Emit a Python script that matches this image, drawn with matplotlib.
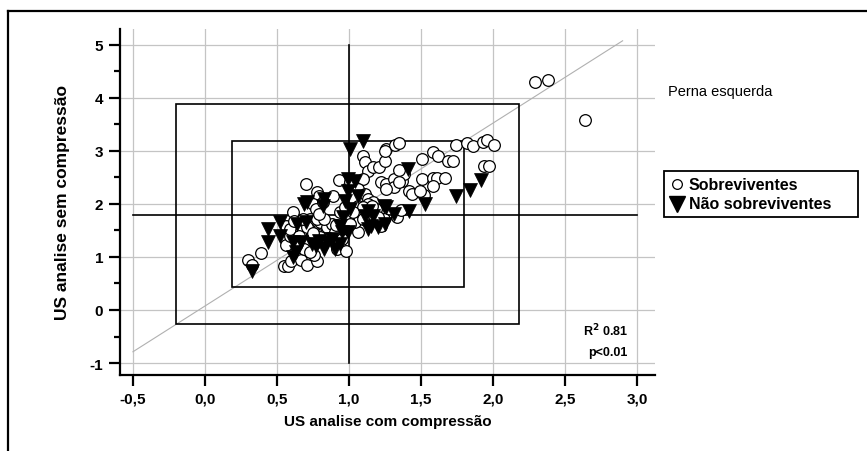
import matplotlib
matplotlib.use('Agg')
import matplotlib.pyplot as plt
from matplotlib.lines import Line2D
from matplotlib.patches import Rectangle

plt.rcParams['font.family'] = ['Liberation Sans', 'DejaVu Sans']

# ---------------- data ----------------
surv_x = [0.30, 0.33, 0.39, 0.70, 0.55, 0.58, 0.60, 0.67, 0.71, 0.78, 0.76, 0.56, 0.59, 0.61, 0.56,
          0.78, 0.79, 0.75, 0.77, 0.79, 0.73, 0.76, 0.81, 0.85, 0.80, 0.72, 0.66, 0.69, 0.74, 0.89,
          0.92, 0.98, 0.94, 0.89, 0.93, 1.06, 1.06, 1.10, 1.11, 1.13, 1.17, 1.21, 1.25, 1.26, 1.32,
          1.35, 1.22, 1.26, 1.31, 1.37, 1.37, 1.10, 1.06, 1.11, 1.13, 1.17, 1.06, 1.13, 1.19, 1.31,
          1.42, 1.44, 1.51, 1.58, 1.61, 1.67, 1.58, 1.51, 1.58, 1.62, 1.69, 1.33, 1.24, 1.22, 1.04,
          1.74, 1.82, 1.86, 1.93, 1.96, 2.01, 1.72, 1.94, 1.97, 1.52, 1.36, 2.29, 2.38, 2.64, 1.38,
          1.35, 0.59, 0.67, 0.71, 0.80, 0.85, 0.88, 0.90, 0.95, 0.78, 0.83, 0.79, 0.82, 0.99, 0.71,
          0.65, 0.64, 0.69, 0.73, 1.01, 1.10, 1.16, 1.26, 1.35, 1.49, 1.25, 1.03, 1.01, 1.20, 1.10,
          0.62, 0.68, 0.86, 0.91, 0.75, 0.97]
surv_y = [0.94, 0.85, 1.08, 2.38, 0.83, 0.83, 0.93, 0.94, 0.85, 0.93, 1.04, 1.23, 1.40, 1.85, 1.59,
          2.23, 2.15, 2.00, 1.91, 1.77, 1.72, 1.59, 1.62, 1.49, 1.38, 1.53, 1.47, 1.30, 1.21, 1.43,
          1.15, 1.11, 1.85, 2.15, 2.45, 1.47, 1.77, 2.91, 2.79, 2.62, 2.70, 2.70, 2.81, 3.04, 3.11,
          3.15, 2.42, 2.38, 2.47, 2.43, 2.62, 2.47, 2.28, 2.19, 2.09, 2.04, 1.96, 2.00, 1.91, 2.32,
          2.25, 2.19, 2.47, 2.49, 2.49, 2.49, 2.34, 2.85, 2.98, 2.91, 2.81, 1.75, 1.72, 1.59, 1.66,
          3.11, 3.15, 3.09, 3.17, 3.21, 3.11, 2.81, 2.72, 2.72, 2.17, 1.89, 4.30, 4.34, 3.58, 2.57,
          2.64, 1.53, 1.49, 1.57, 1.66, 1.57, 1.62, 1.47, 1.34, 1.72, 1.72, 1.81, 2.04, 1.72, 1.28,
          1.40, 1.19, 1.15, 1.09, 2.42, 1.94, 1.96, 2.28, 2.42, 2.25, 3.00, 1.85, 1.62, 1.75, 1.72,
          1.68, 1.72, 1.36, 1.60, 1.45, 1.95]

dead_x = [0.33, 0.44, 0.52, 0.44, 0.52, 0.64, 0.61, 0.63, 0.71, 0.70, 0.83, 0.82, 0.77, 0.85, 0.88,
          0.94, 0.96, 0.99, 0.97, 0.99, 1.04, 0.99, 1.01, 1.10, 1.15, 1.20, 1.25, 1.31, 1.42, 1.53,
          1.41, 1.17, 1.06, 1.74, 1.84, 1.92, 1.13, 0.94, 0.61, 0.74, 0.67, 0.83, 0.79, 0.90, 0.95,
          0.69, 1.01, 1.26, 1.13, 1.24, 1.11]
dead_y = [0.74, 1.53, 1.66, 1.28, 1.40, 1.62, 1.28, 1.09, 2.04, 1.66, 2.09, 1.96, 1.21, 1.28, 1.34,
          1.59, 1.75, 2.25, 2.06, 2.47, 2.43, 1.47, 3.04, 3.19, 1.59, 1.57, 1.62, 1.81, 1.87, 2.00,
          2.66, 1.77, 2.15, 2.15, 2.26, 2.45, 1.53, 1.25, 1.00, 1.25, 1.28, 1.15, 1.30, 1.15, 1.47,
          2.00, 1.91, 1.94, 1.87, 1.96, 1.77]

x_ticks = [-0.5, 0.0, 0.5, 1.0, 1.5, 2.0, 2.5, 3.0]
x_ticklabels = ['-0,5', '0,0', '0,5', '1,0', '1,5', '2,0', '2,5', '3,0']
y_ticks = [-1, 0, 1, 2, 3, 4, 5]
y_ticklabels = ['-1', '0', '1', '2', '3', '4', '5']

mean_x, mean_y = 1.0, 1.8
inner_box = [0.19, 0.43, 1.80, 3.19]    # x0, y0, x1, y1
outer_box = [-0.20, -0.26, 2.18, 3.89]
slope = 1.725
line_x = [-0.5, 2.9]

legend_labels = ['Sobreviventes', 'Não sobreviventes']

# ---------------- figure ----------------
W, H = 867, 452
fig = plt.figure(figsize=(W / 100, H / 100), dpi=100)
fig.patch.set_facecolor('white')

def fx(px):
    return px / W

def fy(py):
    return 1 - py / H

ax = fig.add_axes([fx(120), fy(376), (655 - 120) / W, (376 - 30) / H])
ax.set_xlim(-0.59, 3.125)
ax.set_ylim(-1.226, 5.30)

for s in ['top', 'right']:
    ax.spines[s].set_visible(False)
for s in ['left', 'bottom']:
    ax.spines[s].set_linewidth(1.6)

ax.set_xticks(x_ticks)
ax.set_xticklabels(x_ticklabels)
ax.set_yticks(y_ticks)
ax.set_yticklabels(y_ticklabels)
ax.set_yticks([-0.5, 0.5, 1.5, 2.5, 3.5, 4.5], minor=True)
ax.tick_params(axis='both', which='major', length=8, width=1.6, labelsize=11, pad=4)
ax.tick_params(axis='y', which='minor', length=4, width=1.6)
for lab in ax.get_xticklabels() + ax.get_yticklabels():
    lab.set_fontweight('bold')

ax.grid(True, which='major', color='#c4c4c4', linewidth=0.9)
ax.set_axisbelow(True)

# regression line
ly = [mean_y + slope * (v - mean_x) for v in line_x]
ax.plot(line_x, ly, color='#b0b0b0', linewidth=0.8, zorder=2)

# boxes
for b in (inner_box, outer_box):
    ax.add_patch(Rectangle((b[0], b[1]), b[2] - b[0], b[3] - b[1], fill=False,
                           edgecolor='black', linewidth=1.2, zorder=3))
# crosshair
ax.plot([mean_x, mean_x], [-1, 5], color='black', linewidth=1.2, zorder=3)
ax.plot([-0.5, 3.0], [mean_y, mean_y], color='black', linewidth=1.2, zorder=3)

# points
ax.plot(surv_x, surv_y, linestyle='none', marker='o', markersize=8.4,
        markerfacecolor='white', markeredgecolor='black', markeredgewidth=0.9, zorder=4)
ax.plot(dead_x, dead_y, linestyle='none', marker='v', markersize=10,
        markerfacecolor='black', markeredgecolor='black', markeredgewidth=0.5, zorder=5)

ax.set_xlabel('US analise com compressão', fontsize=11, fontweight='bold', labelpad=6)
ax.set_ylabel('US analise sem compressão', fontsize=12.5, fontweight='bold', labelpad=14)

# annotations
fig.text(fx(668), fy(92), 'Perna esquerda', fontsize=10.5, ha='left', va='center')
fig.text(fx(583), fy(331), r'R$^\mathbf{2}$ 0.81', fontsize=9, fontweight='bold',
         ha='left', va='center')
fig.text(fx(588), fy(353), 'p<0.01', fontsize=9, fontweight='bold', ha='left', va='center')

# legend (manual)
fig.add_artist(Rectangle((fx(664), fy(218)), (858 - 664) / W, (218 - 172) / H,
                         transform=fig.transFigure, fill=False, edgecolor='black', linewidth=1.3))
fig.add_artist(Line2D([fx(677)], [fy(185)], marker='o', markersize=7, markerfacecolor='white',
                      markeredgecolor='black', markeredgewidth=0.9, linestyle='none',
                      transform=fig.transFigure))
fig.add_artist(Line2D([fx(677)], [fy(205)], marker='v', markersize=11, markerfacecolor='black',
                      markeredgecolor='black', linestyle='none', transform=fig.transFigure))
fig.text(fx(689), fy(185), legend_labels[0], fontsize=11.5, fontweight='bold', ha='left', va='center')
fig.text(fx(689), fy(205), legend_labels[1], fontsize=11.5, fontweight='bold', ha='left', va='center')

# outer frame (top and left)
fig.add_artist(Line2D([fx(8), 1.0], [fy(12), fy(12)], color='black', linewidth=1.6,
                      transform=fig.transFigure))
fig.add_artist(Line2D([fx(8), fx(8)], [0.0, fy(12)], color='black', linewidth=1.6,
                      transform=fig.transFigure))

fig.savefig('out.png', dpi=100)
